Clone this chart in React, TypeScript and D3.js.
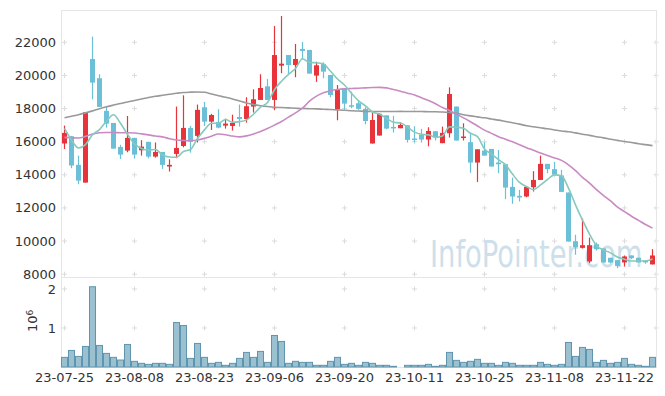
import React from 'react';
import * as d3 from 'd3';

// trading days shown on the chart (Korean market, 2023)
const monthDays: [string, number[]][] = [
  ['07', [25, 26, 27, 28, 31]],
  ['08', [1, 2, 3, 4, 7, 8, 9, 10, 11, 14, 16, 17, 18, 21, 22, 23, 24, 25, 28, 29, 30, 31]],
  ['09', [1, 4, 5, 6, 7, 8, 11, 12, 13, 14, 15, 18, 19, 20, 21, 22, 25, 26, 27]],
  ['10', [4, 5, 6, 10, 11, 12, 13, 16, 17, 18, 19, 20, 23, 24, 25, 26, 27, 30, 31]],
  ['11', [1, 2, 3, 6, 7, 8, 9, 10, 13, 14, 15, 16, 17, 20, 21, 22, 23, 24, 27, 28]],
];
const dates = monthDays.flatMap(([m, ds]) => ds.map((d) => `23-${m}-${String(d).padStart(2, '0')}`));

const opens = [
  15890, 16330, 14600, 13530, 20990, 19830, 17860, 17130, 15680, 15460,
  16230, 15480, 15990, 15100, 15380, 14500, 15260, 15740, 16830, 16350,
  18080, 17210, 17190, 16970, 16950, 17490, 17370, 18120, 18520, 19340,
  18520, 20590, 21230, 20630, 21600, 21540, 19990, 20690, 20030, 17960,
  19200, 18200, 18320, 17980, 15890, 16370, 17590, 16890, 16810, 16990,
  16190, 16430, 16130, 16630, 15910, 16510, 18120, 16250, 15970, 14740,
  15460, 15560, 14740, 14640, 13270, 12730, 12690, 13250, 13690, 14660,
  14340, 13960, 12930, 9990, 9590, 8770, 9810, 9550, 8990, 8850,
  8710, 9130, 8990, 8830, 8590,
];
const highs = [
  16970, 16350, 15160, 17780, 22340, 20070, 18120, 17130, 15810, 17550,
  16230, 16090, 15990, 15950, 15380, 14940, 18120, 18800, 16950, 18240,
  18400, 17680, 17960, 17390, 17630, 18240, 18680, 19160, 20070, 19790,
  22980, 23590, 21230, 21900, 22020, 21540, 20830, 20790, 20030, 19420,
  19200, 19020, 18520, 18080, 17820, 17720, 17590, 17560, 17170, 16990,
  16930, 16770, 16870, 16630, 16910, 19280, 18120, 17110, 16510, 15540,
  15970, 15560, 15500, 14640, 13830, 13090, 13270, 14220, 15160, 14660,
  14780, 14300, 12930, 10380, 11360, 10210, 9910, 9550, 8990, 8850,
  9130, 9130, 8990, 8830, 9510,
];
const lows = [
  15560, 14400, 13430, 13530, 18560, 18100, 16850, 15580, 14960, 15360,
  14980, 15160, 15000, 15040, 14360, 14200, 15000, 15660, 15340, 15950,
  16950, 16710, 16810, 16790, 16670, 16910, 17150, 17760, 18520, 18520,
  17920, 20130, 20070, 19890, 20970, 20110, 19610, 19830, 18680, 17290,
  17960, 18020, 17920, 17050, 15890, 16370, 16750, 16550, 16810, 15950,
  15950, 15950, 15720, 16070, 15910, 16250, 16070, 16070, 14120, 13570,
  15160, 14500, 14100, 12530, 12250, 12390, 12650, 12990, 13690, 14100,
  14020, 12970, 9970, 9170, 9550, 8670, 9430, 8710, 8670, 8360,
  8460, 8910, 8710, 8630, 8590,
];
const closes = [
  16530, 14560, 13650, 17780, 19570, 18100, 17090, 15580, 15220, 16230,
  15220, 15700, 15100, 15380, 14600, 14600, 15620, 16830, 15990, 17920,
  17210, 17610, 16850, 17090, 17130, 17370, 18140, 18560, 19240, 18520,
  21230, 20710, 20630, 20990, 21480, 20110, 20610, 20230, 18820, 19140,
  18300, 18120, 17980, 17250, 17310, 17680, 16790, 16830, 17010, 16110,
  16150, 16130, 16650, 16270, 16530, 18880, 16070, 16310, 14740, 15540,
  15160, 14500, 14640, 13230, 12690, 12630, 13270, 13690, 14660, 14340,
  14020, 12970, 9970, 9630, 9750, 9750, 9510, 8710, 8710, 8500,
  9070, 8970, 8710, 8710, 9130,
];
const volumes = [
  247000, 425000, 272000, 527000, 2058000, 553000, 349000, 247000, 179000, 578000,
  145000, 94000, 68000, 94000, 94000, 68000, 1140000, 1063000, 221000, 604000,
  247000, 94000, 119000, 43000, 94000, 221000, 374000, 247000, 400000, 119000,
  808000, 655000, 94000, 145000, 119000, 119000, 43000, 43000, 145000, 247000,
  68000, 94000, 43000, 119000, 94000, 43000, 43000, 17000, 0, 43000,
  43000, 43000, 68000, 17000, 43000, 374000, 170000, 119000, 145000, 196000,
  94000, 94000, 43000, 119000, 94000, 43000, 43000, 43000, 119000, 68000,
  43000, 68000, 629000, 272000, 502000, 451000, 119000, 170000, 94000, 119000,
  221000, 68000, 43000, 17000, 247000,
];
// MA5 for the first four days (needs earlier closes)
const ma5Lead = [16800, 16100, 15620, 15820];
const ma20 = [
  16260, 16230, 16220, 16320, 16460, 16540, 16550, 16550, 16540, 16540,
  16520, 16470, 16410, 16340, 16290, 16180, 16100, 16070, 16060, 16100,
  16200, 16330, 16460, 16420, 16340, 16290, 16350, 16470, 16620, 16790,
  17000, 17220, 17480, 17740, 18020, 18450, 18750, 18950, 19080, 19150,
  19190, 19210, 19230, 19250, 19270, 19280, 19250, 19150, 19050, 18930,
  18820, 18650, 18480, 18290, 18060, 17880, 17660, 17440, 17200, 16950,
  16700, 16500, 16300, 16150, 15990, 15820, 15640, 15480, 15310, 15160,
  15020, 14870, 14600, 14250, 13850, 13500, 13100, 12750, 12420, 12050,
  11780, 11500, 11250, 11000, 10780,
];
const ma60 = [
  17450, 17540, 17630, 17740, 17860, 17990, 18110, 18210, 18300, 18400,
  18490, 18580, 18670, 18740, 18800, 18860, 18920, 18970, 18990, 19000,
  18980, 18880, 18770, 18680, 18580, 18450, 18340, 18240, 18170, 18120,
  18080, 18060, 18040, 18020, 18000, 17990, 17980, 17960, 17940, 17920,
  17900, 17870, 17850, 17830, 17820, 17820, 17820, 17820, 17830, 17820,
  17820, 17820, 17810, 17810, 17790, 17760, 17720, 17630, 17560, 17500,
  17440, 17370, 17300, 17220, 17140, 17060, 16960, 16900, 16840, 16780,
  16710, 16640, 16600, 16530, 16450, 16380, 16300, 16230, 16150, 16080,
  16010, 15950, 15880, 15820, 15760,
];
const priceTicks = [8000, 10000, 12000, 14000, 16000, 18000, 20000, 22000];
const volumeTicks = [1e6, 2e6];
const tickEvery = 10;

const UP = '#e8333b';
const DOWN = '#6bbfd7';
const FRAME = '#e6e6e6';
const FONT = 'DejaVu Sans';

export default function App() {
  const width = 665;
  const height = 396;
  const left = 61;
  const right = 656;

  const x = d3.scaleBand<string>().domain(dates).range([left, right]).padding(0);
  const bw = x.bandwidth();
  const cx = (i: number) => (x(dates[i]) as number) + bw / 2;

  const y = d3.scaleLinear().domain([7800, 23950]).range([277.5, 10]);
  const yv = d3.scaleLinear().domain([0, 2.282e6]).range([367, 278]);

  const ma5 = closes.map((_, i) => (i < 4 ? ma5Lead[i] : (d3.mean(closes.slice(i - 4, i + 1)) as number)));

  const line = d3
    .line<number>()
    .x((_, i) => cx(i))
    .y((v) => y(v))
    .curve(d3.curveMonotoneX);

  const tickIdx = d3.range(0, dates.length, tickEvery);
  const crossXs = [...tickIdx.map(cx), right];
  const crossYs = [...priceTicks.map((t) => y(t)), ...volumeTicks.map((t) => yv(t))];

  return (
    <svg width={width} height={height} style={{ position: 'absolute', left: 0, top: 0 }} fontFamily={FONT}>
      <rect width={width} height={height} fill="#fff" />

      {/* grid markers */}
      <g stroke="#dcdcdc" strokeWidth={1}>
        {crossXs.map((gx) =>
          crossYs.map((gy) => (
            <g key={gx + '-' + gy}>
              <line x1={gx - 2.5} x2={gx + 2.5} y1={gy} y2={gy} />
              <line x1={gx} x2={gx} y1={gy - 2.5} y2={gy + 2.5} />
            </g>
          ))
        )}
      </g>

      {/* frame */}
      <g stroke={FRAME} strokeWidth={1} fill="none">
        <rect x={left + 0.5} y={10.5} width={right - left} height={357} />
        <line x1={left} x2={right + 1} y1={277.5} y2={277.5} />
      </g>

      {/* watermark, squeezed horizontally */}
      <text transform="translate(430,267) scale(0.74,1)" fontSize={37} fill="#cddfea">
        InfoPointer.com
      </text>

      {/* volume */}
      <g fill="#9bc1d1" stroke="#5f95ae" strokeWidth={1}>
        {volumes.map((v, i) =>
          v > 0 ? (
            <rect
              key={i}
              x={(x(dates[i]) as number) + 0.5}
              y={yv(v)}
              width={bw - 1}
              height={Math.max(0, yv(0) - yv(v))}
            />
          ) : null
        )}
      </g>

      {/* candles */}
      <g>
        {dates.map((d, i) => {
          const up = closes[i] >= opens[i];
          const c = up ? UP : DOWN;
          const top = y(Math.max(opens[i], closes[i]));
          const bot = y(Math.min(opens[i], closes[i]));
          return (
            <g key={d}>
              <line x1={cx(i)} x2={cx(i)} y1={y(highs[i])} y2={y(lows[i])} stroke={c} strokeWidth={1.2} />
              <rect x={(x(d) as number) + 1} y={top} width={bw - 2} height={Math.max(1.5, bot - top)} fill={c} />
            </g>
          );
        })}
      </g>

      {/* moving averages */}
      <path d={line(ma60) || ''} fill="none" stroke="#999" strokeWidth={1.6} />
      <path d={line(ma20) || ''} fill="none" stroke="#c98ac3" strokeWidth={1.6} />
      <path d={line(ma5) || ''} fill="none" stroke="#86c9bd" strokeWidth={1.6} />

      {/* axes labels */}
      <g fontSize={13} fill="#333" textAnchor="end">
        {priceTicks.map((t) => (
          <text key={t} x={56} y={y(t)} dy="0.35em">
            {t}
          </text>
        ))}
        {volumeTicks.map((t) => (
          <text key={t} x={56} y={yv(t)} dy="0.35em">
            {t / 1e6}
          </text>
        ))}
      </g>
      <text transform="translate(37,332) rotate(-90)" fontSize={13} fill="#333">
        10
        <tspan fontSize={9} dy={-4}>
          6
        </tspan>
      </text>
      <g fontSize={13} fill="#333" textAnchor="middle">
        {tickIdx.map((i) => (
          <text key={i} x={cx(i)} y={382}>
            {dates[i]}
          </text>
        ))}
      </g>
    </svg>
  );
}
